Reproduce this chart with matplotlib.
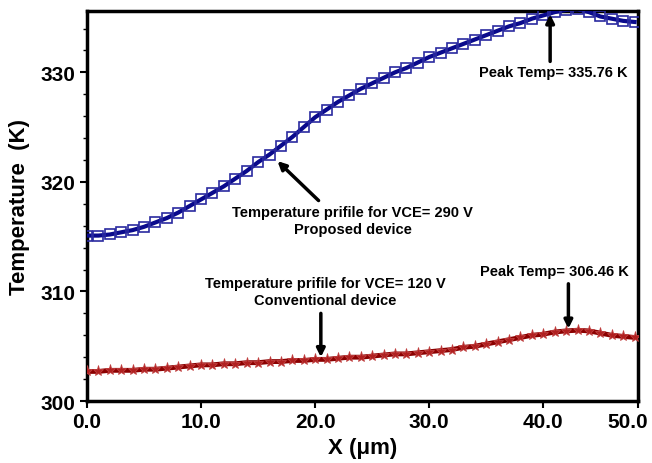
import numpy as np
import matplotlib
matplotlib.use("Agg")
import matplotlib.pyplot as plt
import matplotlib.transforms as mtransforms
from matplotlib.ticker import MultipleLocator

plt.rcParams['font.family'] = ['Liberation Sans', 'DejaVu Sans']
plt.rcParams['font.weight'] = 'bold'

# position along the device (um)
x_um = [0, 1, 2, 3, 4, 5, 6, 7, 8, 9, 10, 11, 12, 13, 14, 15, 16, 17, 18, 19,
        20, 21, 22, 23, 24, 25, 26, 27, 28, 29, 30, 31, 32, 33, 34, 35, 36, 37,
        38, 39, 40, 41, 42, 43, 44, 45, 46, 47, 48]

# proposed device, VCE = 290 V
temp_proposed = [315.1, 315.1, 315.2, 315.4, 315.6, 315.9, 316.3, 316.7, 317.2, 317.8,
                 318.4, 319.0, 319.6, 320.3, 321.0, 321.8, 322.5, 323.3, 324.1, 325.0,
                 325.9, 326.6, 327.3, 327.9, 328.5, 329.0, 329.5, 330.0, 330.4, 330.9,
                 331.4, 331.8, 332.2, 332.6, 333.0, 333.4, 333.8, 334.2, 334.5, 334.9,
                 335.2, 335.5, 335.7, 335.76, 335.5, 335.1, 334.9, 334.7, 334.6]

# conventional device, VCE = 120 V
temp_conventional = [302.7, 302.7, 302.8, 302.8, 302.8, 302.9, 302.9, 303.0, 303.1, 303.2,
                     303.3, 303.3, 303.4, 303.4, 303.5, 303.5, 303.6, 303.6, 303.7, 303.7,
                     303.8, 303.8, 303.9, 304.0, 304.0, 304.1, 304.2, 304.3, 304.3, 304.4,
                     304.5, 304.6, 304.7, 304.9, 305.0, 305.2, 305.4, 305.6, 305.8, 306.0,
                     306.1, 306.3, 306.4, 306.46, 306.4, 306.2, 306.0, 305.9, 305.8]

x_ticks = [0, 10, 20, 30, 40, 48.3]
x_tick_labels = ['0.0', '10.0', '20.0', '30.0', '40.0', '50.0']
y_ticks = [300, 310, 320, 330]

fig = plt.figure(figsize=(6.52, 4.64), dpi=100)
ax = fig.add_axes([0.1334, 0.1336, 0.8451, 0.8405])

ax.plot(x_um, temp_proposed, color='#0a0a8c', lw=3, marker='s', markersize=7.5,
        markerfacecolor='none', markeredgecolor='#2a2aa0', markeredgewidth=1.2, zorder=3)
ax.plot(x_um, temp_conventional, color='#8b0000', lw=3.5, marker='*', markersize=8,
        markerfacecolor='#b02020', markeredgecolor='#c04040', markeredgewidth=0.6, zorder=3)

ax.set_xlim(0, 48.3)
ax.set_ylim(300, 335.6)
ax.set_xticks(x_ticks)
ax.set_xticklabels(x_tick_labels)
ax.set_yticks(y_ticks)
ax.yaxis.set_minor_locator(MultipleLocator(2))
ax.tick_params(axis='both', which='major', labelsize=15, width=1.5, length=5,
               direction='out', pad=3)
ax.tick_params(axis='y', which='minor', width=1, length=3, direction='out')
for lab in ax.get_xticklabels() + ax.get_yticklabels():
    lab.set_fontweight('bold')
# last x label sits a bit left of its tick, as in the original
last = ax.get_xticklabels()[-1]
last.set_transform(last.get_transform() +
                   mtransforms.ScaledTranslation(-10 / 100, 0, fig.dpi_scale_trans))
for sp in ax.spines.values():
    sp.set_linewidth(2.5)

ax.set_xlabel('X (\u03bcm)', fontsize=16, fontweight='bold', labelpad=4)
ax.set_ylabel('Temperature  (K)', fontsize=16, fontweight='bold', labelpad=8)

arrow = dict(arrowstyle='-|>', color='black', lw=2.5, mutation_scale=12,
             shrinkA=0, shrinkB=0)
fs = 10.5

# proposed device annotations
ax.annotate('', xy=(40.6, 335.3), xytext=(40.6, 331.0), arrowprops=arrow)
ax.text(40.9, 330.05, 'Peak Temp= 335.76 K', ha='center', va='center',
        fontsize=fs, fontweight='bold')
ax.annotate('', xy=(16.7, 321.9), xytext=(20.3, 318.3), arrowprops=arrow)
ax.text(23.3, 316.5, 'Temperature prifile for VCE= 290 V\nProposed device',
        ha='center', va='center', fontsize=fs, fontweight='bold', linespacing=1.3)

# conventional device annotations
ax.annotate('', xy=(20.5, 304.0), xytext=(20.5, 308.0), arrowprops=arrow)
ax.text(20.9, 310.0, 'Temperature prifile for VCE= 120 V\nConventional device',
        ha='center', va='center', fontsize=fs, fontweight='bold', linespacing=1.3)
ax.annotate('', xy=(42.2, 306.6), xytext=(42.2, 310.7), arrowprops=arrow)
ax.text(41.0, 311.9, 'Peak Temp= 306.46 K', ha='center', va='center',
        fontsize=fs, fontweight='bold')

fig.savefig('out.png', dpi=100)
